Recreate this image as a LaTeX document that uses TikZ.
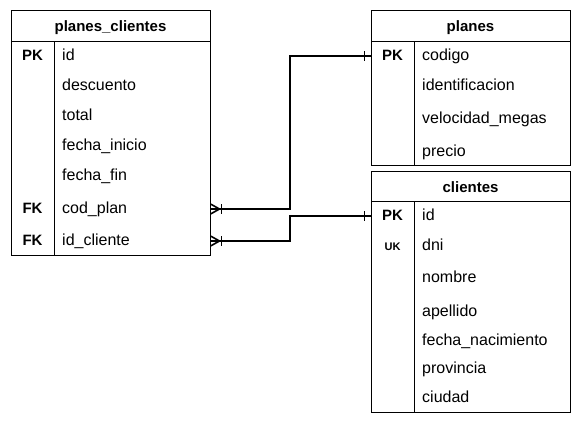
\documentclass[tikz,border=0pt]{standalone}
\usepackage{fontspec}
\setmainfont{Liberation Sans}
\usepackage{tikz}

\begin{document}
\begin{tikzpicture}[x=1pt,y=-1pt]
    \tikzstyle{every node}+=[inner sep=0pt]
    \tikzstyle{table}=[draw=black, line width=1pt, minimum width=199, minimum height=#1]
    \tikzstyle{field}=[anchor=west, font=\fontsize{16}{19}\selectfont, text height=11, text depth=3, yshift=-1]
    \tikzstyle{keyname}=[font=\fontsize{15}{18}\selectfont\bfseries, text height=11, text depth=3, yshift=-1]
    \tikzstyle{title}=[font=\fontsize{15}{18}\selectfont\bfseries, text height=11, text depth=3, yshift=-1]
    \tikzstyle{rel}=[black, line width=1.6pt]
    \useasboundingbox (0,0) rectangle (581,423);
    \draw (110.5,132.5) node [table=245] (pc) {};
    \draw [black, line width=1pt] (11,41) -- (210,41);
    \draw [black, line width=1pt] (54,41) -- (54,255);
    \draw (110.5,26) node [title] (pctitle) {planes\_clientes};
    \draw (32.5,55) node [keyname] (pcpk) {PK};
    \draw (32.5,208) node [keyname] (pcfka) {FK};
    \draw (32.5,240) node [keyname] (pcfkb) {FK};
    \draw (62,55) node [field] (pcid) {id};
    \draw (62,85) node [field] (pcdesc) {descuento};
    \draw (62,115) node [field] (pctotal) {total};
    \draw (62,145) node [field] (pcinicio) {fecha\_inicio};
    \draw (62,175) node [field] (pcfin) {fecha\_fin};
    \draw (62,208) node [field] (pccodplan) {cod\_plan};
    \draw (62,240) node [field] (pccliente) {id\_cliente};
    \draw (470.5,87.5) node [table=155] (pl) {};
    \draw [black, line width=1pt] (371,41) -- (570,41);
    \draw [black, line width=1pt] (414,41) -- (414,165);
    \draw (470.5,26) node [title] (pltitle) {planes};
    \draw (392.5,55) node [keyname] (plpk) {PK};
    \draw (422,55) node [field] (plcodigo) {codigo};
    \draw (422,85) node [field] (plident) {identificacion};
    \draw (422,118) node [field] (plvel) {velocidad\_megas};
    \draw (422,151) node [field] (plprecio) {precio};
    \draw (470.5,291.5) node [table=241] (cl) {};
    \draw [black, line width=1pt] (371,201) -- (570,201);
    \draw [black, line width=1pt] (414,201) -- (414,412);
    \draw (470.5,187) node [title] (cltitle) {clientes};
    \draw (392.5,215) node [keyname] (clpk) {PK};
    \draw (392.5,245) node [keyname, font=\fontsize{11}{13}\selectfont\bfseries] (cluk) {UK};
    \draw (422,215) node [field] (clid) {id};
    \draw (422,245) node [field] (cldni) {dni};
    \draw (422,277) node [field] (clnombre) {nombre};
    \draw (422,311) node [field] (clapellido) {apellido};
    \draw (422,340) node [field] (clnac) {fecha\_nacimiento};
    \draw (422,368) node [field] (clprov) {provincia};
    \draw (422,397) node [field] (clciudad) {ciudad};
    \coordinate (benda) at (290,130);
    \coordinate (bendb) at (290,228);
    \draw [rel] (pc.east |- pccodplan) -| (benda) |- (pl.west |- plcodigo);
    \draw [rel] (pc.east |- pccliente) -| (bendb) |- (cl.west |- clid);
    \draw [rel] (pc.east |- pccodplan) ++(0,-5) -- ++(9,5) -- ++(-9,5);
    \draw [rel] (pc.east |- pccodplan) ++(11,-5) -- ++(0,10);
    \draw [rel] (pc.east |- pccliente) ++(0,-5) -- ++(9,5) -- ++(-9,5);
    \draw [rel] (pc.east |- pccliente) ++(11,-5) -- ++(0,10);
    \draw [rel] (pl.west |- plcodigo) ++(-6,-5) -- ++(0,10);
    \draw [rel] (cl.west |- clid) ++(-6,-5) -- ++(0,10);
\end{tikzpicture}
\end{document}
